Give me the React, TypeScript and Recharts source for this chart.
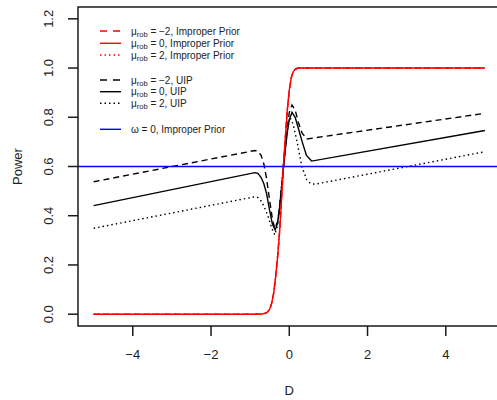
import React from 'react';
import { LineChart, Line, XAxis, YAxis, ReferenceLine } from 'recharts';

// ---------- data ----------
const redD = [-5, -1, -0.7, -0.6, -0.55, -0.5, -0.45, -0.4, -0.35, -0.3, -0.25, -0.2, -0.15, -0.1, -0.05, 0, 0.05, 0.1, 0.15, 0.2, 0.3, 0.4, 5];
const redPowerM2 = [0, 0, 0.001, 0.004, 0.01, 0.02, 0.045, 0.085, 0.15, 0.23, 0.33, 0.46, 0.6, 0.72, 0.83, 0.91, 0.96, 0.985, 0.995, 0.999, 1, 1, 1];
const redPower0 = [0, 0, 0.001, 0.004, 0.01, 0.02, 0.045, 0.085, 0.15, 0.23, 0.33, 0.46, 0.6, 0.72, 0.83, 0.91, 0.96, 0.985, 0.995, 0.999, 1, 1, 1];
const redPowerP2 = [0, 0, 0.001, 0.004, 0.01, 0.02, 0.045, 0.085, 0.15, 0.23, 0.33, 0.46, 0.6, 0.72, 0.83, 0.91, 0.96, 0.985, 0.995, 0.999, 1, 1, 1];

const uipM2D = [-5, -0.88, -0.8, -0.72, -0.65, -0.58, -0.5, -0.43, -0.37, -0.3, -0.25, -0.2, -0.15, -0.1, -0.05, 0, 0.07, 0.15, 0.23, 0.33, 0.45, 5];
const uipM2Power = [0.538, 0.665, 0.662, 0.645, 0.61, 0.55, 0.46, 0.385, 0.348, 0.375, 0.43, 0.51, 0.6, 0.68, 0.76, 0.82, 0.85, 0.83, 0.78, 0.735, 0.712, 0.816];

const uip0D = [-5, -0.88, -0.8, -0.72, -0.65, -0.58, -0.5, -0.43, -0.36, -0.3, -0.25, -0.2, -0.15, -0.1, -0.05, 0, 0.07, 0.15, 0.25, 0.33, 0.44, 0.57, 5];
const uip0Power = [0.441, 0.575, 0.572, 0.555, 0.53, 0.49, 0.42, 0.365, 0.342, 0.37, 0.43, 0.51, 0.59, 0.67, 0.74, 0.79, 0.82, 0.8, 0.745, 0.7, 0.645, 0.622, 0.746];

const uipP2D = [-5, -0.88, -0.8, -0.72, -0.65, -0.54, -0.45, -0.37, -0.3, -0.25, -0.2, -0.15, -0.1, -0.05, 0.02, 0.1, 0.2, 0.32, 0.45, 0.55, 0.66, 5];
const uipP2Power = [0.349, 0.477, 0.474, 0.46, 0.44, 0.396, 0.35, 0.322, 0.36, 0.43, 0.52, 0.61, 0.69, 0.75, 0.8, 0.77, 0.7, 0.6, 0.545, 0.53, 0.528, 0.66];

const omegaPower = 0.6;

const xTicks = [-4, -2, 0, 2, 4];
const yTicks = [0, 0.2, 0.4, 0.6, 0.8, 1.0, 1.2];

const legendMu = ['−2', '0', '2', '−2', '0', '2'];
const legendPrior = ['Improper Prior', 'Improper Prior', 'Improper Prior', 'UIP', 'UIP', 'UIP'];
const legendOmega = 'ω = 0, Improper Prior';

// ---------- helpers / styles ----------
const toRows = (d: number[], p: number[]) => d.map((x, i) => ({ D: x, P: p[i] }));

const FONT = '"Liberation Sans", Arial, Helvetica, sans-serif';
const DASH = '6 4';
const DOT = '1.5 3';
const LW = 1.4;
const AXC = '#1a1a1a';
const AXW = 1.5;
const X_DOMAIN: [number, number] = [-5.4, 5.309];
const Y_DOMAIN: [number, number] = [-0.048, 1.248];
const TICK_LEN = 10;

// plot frame (layout only)
const PLOT_LEFT = 78;
const PLOT_TOP = 7;
const PLOT_BOTTOM = 326;

const fmtX = (v: number) => (v < 0 ? '−' + Math.abs(v) : String(v));

function XTick(props: any) {
  const x = Number(props.x);
  const y = Number(props.y);
  return (
    <g>
      <line x1={x} x2={x} y1={y} y2={y + TICK_LEN} stroke={AXC} strokeWidth={AXW} />
      <text x={x} y={y + 24} dy="0.71em" textAnchor="middle" fontSize={13} fill="#222" fontFamily={FONT}>
        {fmtX(Number(props.payload.value))}
      </text>
    </g>
  );
}

function YTick(props: any) {
  const x = Number(props.x);
  const y = Number(props.y);
  const tx = x - 25;
  return (
    <g>
      <line x1={x - TICK_LEN} x2={x} y1={y} y2={y} stroke={AXC} strokeWidth={AXW} />
      <text
        x={tx}
        y={y}
        transform={`rotate(-90, ${tx}, ${y})`}
        textAnchor="middle"
        fontSize={13}
        fill="#222"
        fontFamily={FONT}
      >
        {Number(props.payload.value).toFixed(1)}
      </text>
    </g>
  );
}

const legendStyles = [
  { color: '#ff0000', dash: '7 6' },
  { color: '#ff0000', dash: undefined },
  { color: '#ff0000', dash: '1.5 3' },
  { color: '#000000', dash: '7 6' },
  { color: '#000000', dash: undefined },
  { color: '#000000', dash: '1.5 3' },
];
const legendY = [31, 43.3, 55, 80, 91.7, 103.3];

function Overlay() {
  return (
    <svg
      width={497}
      height={400}
      style={{ position: 'absolute', left: 0, top: 0, pointerEvents: 'none' }}
      fontFamily={FONT}
    >
      <polyline
        points={`505,${PLOT_TOP} ${PLOT_LEFT},${PLOT_TOP} ${PLOT_LEFT},${PLOT_BOTTOM} 505,${PLOT_BOTTOM}`}
        fill="none"
        stroke={AXC}
        strokeWidth={AXW}
      />
      {legendMu.map((mu, i) => (
        <g key={i}>
          <line
            x1={100}
            x2={121}
            y1={legendY[i]}
            y2={legendY[i]}
            stroke={legendStyles[i].color}
            strokeWidth={LW}
            strokeDasharray={legendStyles[i].dash}
          />
          <text x={131} y={legendY[i]} dy="0.35em" fontSize={10} fill="#222">
            μ
            <tspan fontSize={7.5} dy={2}>rob</tspan>
            <tspan dy={-2}>{` = ${mu}, ${legendPrior[i]}`}</tspan>
          </text>
        </g>
      ))}
      <line x1={100} x2={121} y1={129.3} y2={129.3} stroke="#0000ff" strokeWidth={LW} />
      <text x={131} y={129.3} dy="0.35em" fontSize={10} fill="#222">
        {legendOmega}
      </text>
      <text
        x={21.5}
        y={166.5}
        transform="rotate(-90, 21.5, 166.5)"
        textAnchor="middle"
        fontSize={13}
        fill="#222"
      >
        Power
      </text>
      <text x={289.3} y={395} textAnchor="middle" fontSize={13} fill="#222">
        D
      </text>
    </svg>
  );
}

export default function App() {
  return (
    <div style={{ position: 'absolute', left: 0, top: 0, width: 497, height: 400, overflow: 'hidden', background: '#fff' }}>
      <LineChart width={497} height={400} margin={{ top: PLOT_TOP, right: 0, bottom: 0, left: 0 }}>
        <XAxis
          type="number"
          dataKey="D"
          domain={X_DOMAIN}
          allowDataOverflow
          ticks={xTicks}
          tickSize={0}
          tickMargin={0}
          height={400 - PLOT_BOTTOM}
          axisLine={false}
          tickLine={false}
          tick={<XTick />}
        />
        <YAxis
          type="number"
          dataKey="P"
          domain={Y_DOMAIN}
          allowDataOverflow
          ticks={yTicks}
          tickSize={0}
          tickMargin={0}
          width={PLOT_LEFT}
          axisLine={false}
          tickLine={false}
          tick={<YTick />}
        />
        <Line data={toRows(uipM2D, uipM2Power)} dataKey="P" type="linear" stroke="#000" strokeWidth={LW} strokeDasharray={DASH} dot={false} isAnimationActive={false} />
        <Line data={toRows(uip0D, uip0Power)} dataKey="P" type="linear" stroke="#000" strokeWidth={LW} dot={false} isAnimationActive={false} />
        <Line data={toRows(uipP2D, uipP2Power)} dataKey="P" type="linear" stroke="#000" strokeWidth={LW} strokeDasharray={DOT} dot={false} isAnimationActive={false} />
        <Line data={toRows(redD, redPowerM2)} dataKey="P" type="linear" stroke="#ff0000" strokeWidth={LW} strokeDasharray={DASH} dot={false} isAnimationActive={false} />
        <Line data={toRows(redD, redPower0)} dataKey="P" type="linear" stroke="#ff0000" strokeWidth={LW} dot={false} isAnimationActive={false} />
        <Line data={toRows(redD, redPowerP2)} dataKey="P" type="linear" stroke="#ff0000" strokeWidth={LW} strokeDasharray={DOT} dot={false} isAnimationActive={false} />
        <ReferenceLine y={omegaPower} stroke="#0000ff" strokeWidth={1.5} ifOverflow="visible" />
      </LineChart>
      <Overlay />
    </div>
  );
}
